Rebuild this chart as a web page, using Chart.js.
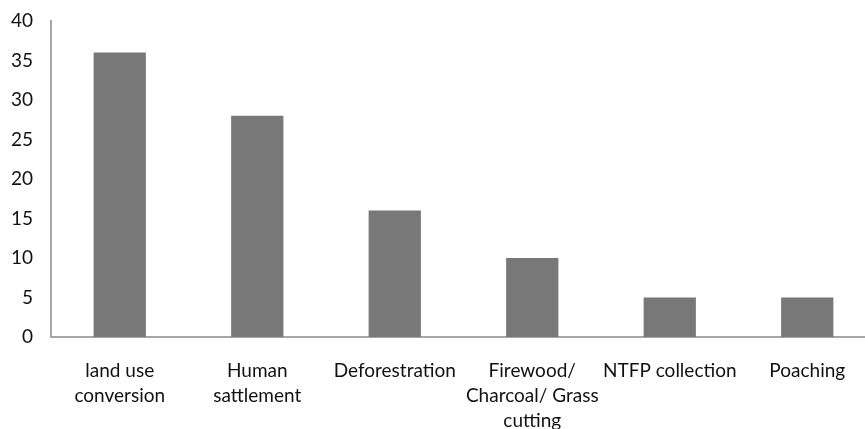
<!DOCTYPE html>
<html>
<head>
<meta charset="utf-8">
<script src="https://cdn.jsdelivr.net/npm/chart.js@4/dist/chart.umd.min.js"></script>
<style>
  html, body { margin: 0; padding: 0; background: #fff; overflow: hidden; }
  #wrap { width: 865px; height: 429px; overflow: hidden; }
  canvas { display: block; }
</style>
</head>
<body>
<div id="wrap"><canvas id="c" width="876" height="429"></canvas></div>
<script>
// Threat categories and the counts reported for each
const categories = [
  ["land use", "conversion"],
  ["Human", "sattlement"],
  "Deforestration",
  ["Firewood/", "Charcoal/ Grass", "cutting"],
  "NTFP collection",
  "Poaching"
];
const counts = [36, 28, 16, 10, 5, 5];
const yTicks = [0, 5, 10, 15, 20, 25, 30, 35, 40];

const axisGrey = '#a6a6a6';
const fontFamily = 'Lato, "Open Sans", sans-serif';

new Chart(document.getElementById('c'), {
  type: 'bar',
  data: {
    labels: categories,
    datasets: [{
      data: counts,
      backgroundColor: '#777877',
      borderWidth: 0,
      categoryPercentage: 1,
      barPercentage: 0.38
    }]
  },
  options: {
    responsive: false,
    animation: false,
    layout: { padding: { top: 21, right: 0, bottom: 0, left: 0 } },
    plugins: { legend: { display: false }, tooltip: { enabled: false } },
    scales: {
      x: {
        grid: { display: false, drawTicks: false },
        border: { display: true, color: axisGrey, width: 2 },
        ticks: {
          color: '#111',
          font: { family: fontFamily, size: 19, lineHeight: 1.32 },
          padding: 21, maxRotation: 0, autoSkip: false
        },
        afterFit(scale) { scale.height = 92; }
      },
      y: {
        min: 0,
        max: 40,
        grid: { display: false, drawTicks: false },
        border: { display: true, color: axisGrey, width: 2 },
        afterBuildTicks(scale) { scale.ticks = yTicks.map(v => ({ value: v })); },
        ticks: { color: '#111', font: { family: fontFamily, size: 19, lineHeight: 0.8 }, padding: 18 },
        afterFit(scale) {
          scale.width = 51;
          scale.paddingTop = 0;
          scale.paddingBottom = 0;
        }
      }
    }
  }
});
</script>
</body>
</html>
